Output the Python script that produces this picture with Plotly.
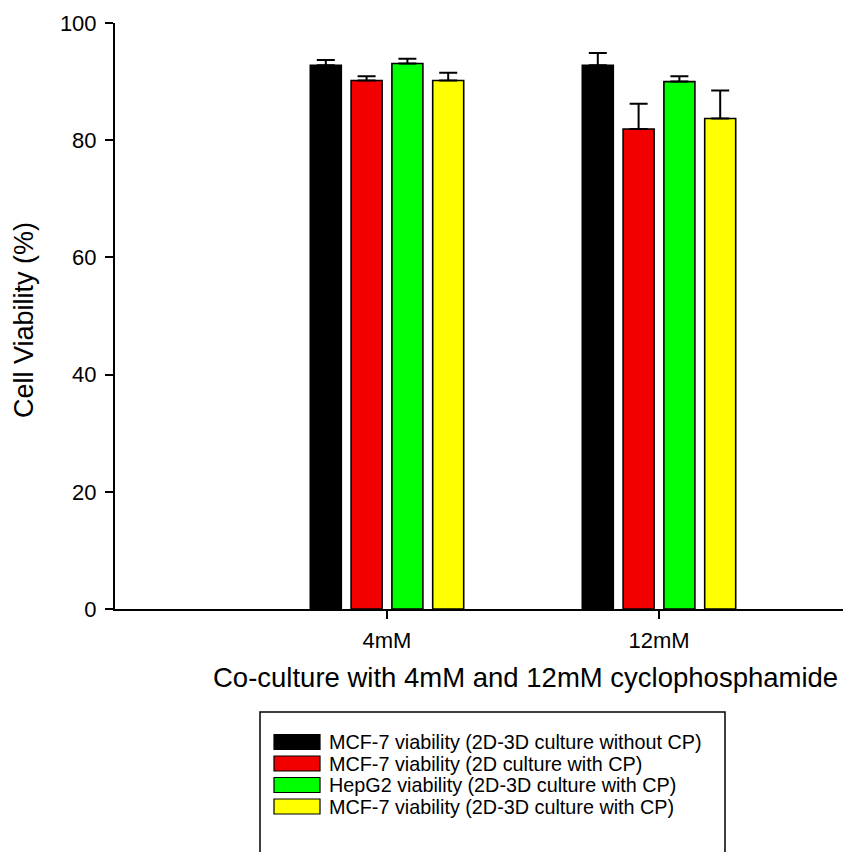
import plotly.graph_objects as go

categories = ["4mM", "12mM"]
cat_pos = [1, 2]
series_names = [
    "MCF-7 viability (2D-3D culture without CP)",
    "MCF-7 viability (2D culture with CP)",
    "HepG2 viability (2D-3D culture with CP)",
    "MCF-7 viability (2D-3D culture with CP)",
]
series_colors = ["#000000", "#f20000", "#00ff00", "#ffff00"]
mcf7_3d_no_cp = [92.8, 92.8]
mcf7_2d_cp = [90.2, 81.9]
hepg2_3d_cp = [93.1, 90.0]
mcf7_3d_cp = [90.2, 83.7]
err_mcf7_3d_no_cp = [0.9, 2.1]
err_mcf7_2d_cp = [0.7, 4.3]
err_hepg2_3d_cp = [0.8, 0.9]
err_mcf7_3d_cp = [1.3, 4.8]
y_ticks = [0, 20, 40, 60, 80, 100]

values = [mcf7_3d_no_cp, mcf7_2d_cp, hepg2_3d_cp, mcf7_3d_cp]
errors = [err_mcf7_3d_no_cp, err_mcf7_2d_cp, err_hepg2_3d_cp, err_mcf7_3d_cp]

FONT = "Liberation Sans, Arial, sans-serif"

fig = go.Figure()
for name, color, v, e in zip(series_names, series_colors, values, errors):
    fig.add_trace(go.Bar(
        x=cat_pos, y=v, name=name,
        marker=dict(color=color, line=dict(color="#000000", width=1.6)),
        error_y=dict(type="data", array=e, arrayminus=[0] * len(e), symmetric=False,
                     color="#000000", thickness=2, width=9),
        showlegend=False,
    ))

W, H = 843, 852
L, R, T, B = 115, 0, 23, 243
pw = W - L - R
ph = H - T - B

def px_x(p):
    return (p - L) / pw

def px_y(p):
    return (H - B - p) / ph

shapes = []
annotations = []
# legend box
shapes.append(dict(type="rect", xref="paper", yref="paper",
                   x0=px_x(260), x1=px_x(725), y0=px_y(870), y1=px_y(712),
                   line=dict(color="#000000", width=1.5), fillcolor="rgba(0,0,0,0)"))
row_y = [742, 763.5, 785, 806.5]
for name, color, ry in zip(series_names, series_colors, row_y):
    shapes.append(dict(type="rect", xref="paper", yref="paper",
                       x0=px_x(274), x1=px_x(320), y0=px_y(ry + 7.5), y1=px_y(ry - 7.5),
                       line=dict(color="#000000", width=1.2), fillcolor=color))
    annotations.append(dict(text=name, xref="paper", yref="paper",
                            x=px_x(327), y=px_y(ry), xanchor="left", yanchor="middle",
                            showarrow=False, font=dict(family=FONT, size=19.8, color="#000000")))

# y-axis title as annotation for exact placement
annotations.append(dict(text="Cell Viability (%)", xref="paper", yref="paper",
                        x=px_x(24), y=px_y(320), xanchor="center", yanchor="middle",
                        textangle=-90, showarrow=False,
                        font=dict(family=FONT, size=27, color="#000000")))
# x-axis title
annotations.append(dict(text="Co-culture with 4mM and 12mM cyclophosphamide", xref="paper", yref="paper",
                        x=px_x(525), y=px_y(677), xanchor="center", yanchor="middle",
                        showarrow=False,
                        font=dict(family=FONT, size=27.5, color="#000000")))

fig.update_layout(
    width=W, height=H,
    margin=dict(l=L, r=R, t=T, b=B, pad=0),
    paper_bgcolor="white", plot_bgcolor="white",
    barmode="group", bargap=0.4, bargroupgap=0.24,
    font=dict(family=FONT, color="#000000"),
    shapes=shapes, annotations=annotations,
    xaxis=dict(
        range=[0, (W - L - R) / 272.0], tickvals=cat_pos, ticktext=categories,
        showline=True, linecolor="#000000", linewidth=2, showgrid=False, zeroline=False,
        ticks="outside", ticklen=8, tickwidth=2, tickcolor="#000000",
        tickfont=dict(family=FONT, size=22), ticklabelstandoff=3,
    ),
    yaxis=dict(
        range=[0, 100], tickvals=y_ticks,
        showline=True, linecolor="#000000", linewidth=2, showgrid=False, zeroline=False,
        ticks="outside", ticklen=8, tickwidth=2, tickcolor="#000000",
        tickfont=dict(family=FONT, size=22), ticklabelstandoff=4,
    ),
)

fig.write_html("out.html")
